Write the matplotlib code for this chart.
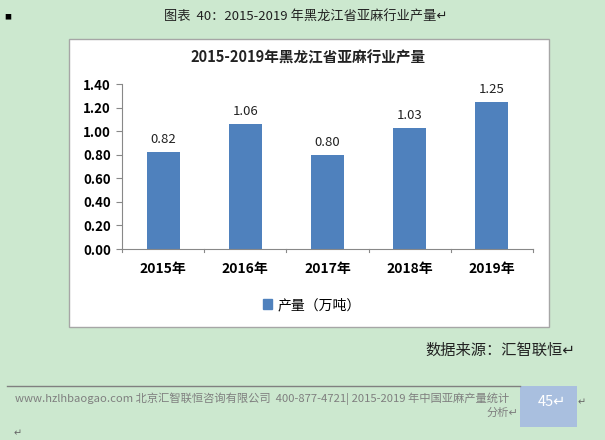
import matplotlib
matplotlib.use("Agg")
import matplotlib.pyplot as plt
from matplotlib.patches import Rectangle
from matplotlib.lines import Line2D

plt.rcParams["font.family"] = ["Noto Sans CJK SC", "DejaVu Sans"]

years = ["2015年", "2016年", "2017年", "2018年", "2019年"]
output = [0.82, 1.06, 0.80, 1.03, 1.25]
yticks = [0.00, 0.20, 0.40, 0.60, 0.80, 1.00, 1.20, 1.40]

W, H = 605, 440
bg = "#CCE8CF"
bar_color = "#4F81BD"

fig = plt.figure(figsize=(W / 100, H / 100), dpi=100, facecolor=bg)


def px(x, y):
    # pixel coords (top-left origin) -> figure fraction
    return x / W, 1 - y / H


# Chart frame.
x0, y0 = px(69, 327)
fig.patches.append(Rectangle((x0, y0), (549 - 69) / W, (327 - 39) / H,
                             transform=fig.transFigure, facecolor="white",
                             edgecolor="#A6A6A6", linewidth=1.0, zorder=-5))

ax = fig.add_axes([122 / W, 1 - 249 / H, (533 - 122) / W, (249 - 84) / H])
ax.set_facecolor("white")
pos = list(range(len(years)))
ax.bar(pos, output, width=0.4, color=bar_color, zorder=2)
for p, v in zip(pos, output):
    ax.text(p, v + 0.05, f"{v:.2f}", ha="center", va="bottom", fontsize=9.5,
            color="#222222")

ax.set_xlim(-0.5, len(years) - 0.5)
ax.set_ylim(0, 1.4)
ax.set_yticks(yticks)
ax.set_yticklabels([f"{t:.2f}" for t in yticks], fontsize=9.5, fontweight="bold")
ax.set_xticks(pos)
ax.set_xticklabels(years, fontsize=10, fontweight="bold")
ax.tick_params(axis="x", length=0, pad=9)
ax.tick_params(axis="y", length=4, color="#888888", pad=4)
for b in [i - 0.5 for i in range(len(years) + 1)]:
    ax.plot([b, b], [0, -0.025], color="#888888", lw=0.8, clip_on=False)
for s in ["top", "right"]:
    ax.spines[s].set_visible(False)
ax.spines["left"].set_color("#888888")
ax.spines["bottom"].set_color("#888888")

# Chart title.
fig.text(*px(308, 57), "2015-2019年黑龙江省亚麻行业产量", ha="center",
         va="center", fontsize=10.5, fontweight="bold", color="#222222")

# Legend.
fig.legend(handles=[Rectangle((0, 0), 1, 1, color=bar_color)],
           labels=["产量（万吨）"], loc="center", bbox_to_anchor=px(312, 305),
           frameon=False, fontsize=10, handlelength=0.7, handleheight=0.7,
           handletextpad=0.4)

# Document text around the chart.
fig.text(*px(8, 17), "■", ha="center", va="center", fontsize=5, color="black")
fig.text(*px(306, 17), "图表  40：2015-2019 年黑龙江省亚麻行业产量↵", ha="center",
         va="center", fontsize=9.5, color="#222222")
fig.text(*px(575, 350), "数据来源：汇智联恒↵", ha="right", va="center",
         fontsize=11, color="#222222")

fig.lines.append(Line2D([7 / W, 520 / W], [1 - 386 / H] * 2,
                        transform=fig.transFigure, color="#808080", lw=1))
bx, by = px(520, 427)
fig.patches.append(Rectangle((bx, by), 57 / W, 41 / H, transform=fig.transFigure,
                             facecolor="#A9BFDF", edgecolor="none"))
fig.text(*px(552, 402), "45↵", ha="center", va="center", fontsize=10.5,
         color="white")
fig.text(*px(582, 402), "↵", ha="center", va="center", fontsize=7, color="#666666")
fig.text(*px(15, 399),
         "www.hzlhbaogao.com 北京汇智联恒咨询有限公司  400-877-4721| 2015-2019 年中国亚麻产量统计",
         ha="left", va="center", fontsize=8.1, color="#7F7F7F")
fig.text(*px(518, 413), "分析↵", ha="right", va="center", fontsize=8.1,
         color="#7F7F7F")
fig.text(*px(18, 433), "↵", ha="center", va="center", fontsize=7, color="#666666")

fig.savefig("out.png", dpi=100, facecolor=bg)
